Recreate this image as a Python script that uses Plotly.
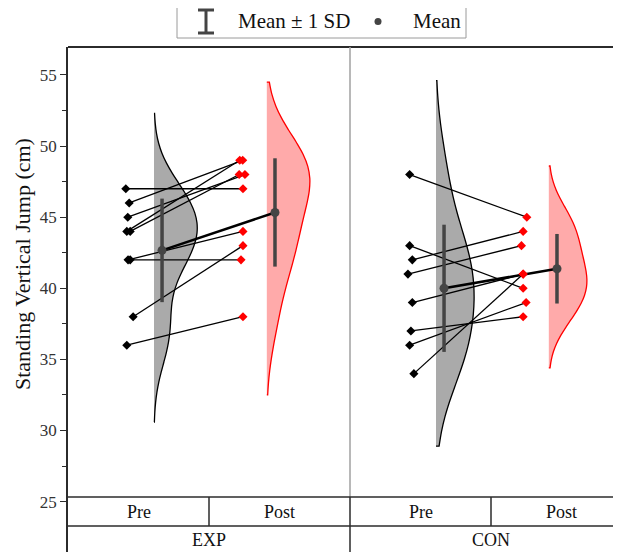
import numpy as np
import plotly.graph_objects as go

# ---------------- data ----------------
groups = ["EXP", "CON"]
phases = ["Pre", "Post"]
exp_pre = [47, 46, 45, 44, 44, 42, 42, 38, 36]
exp_post = [47, 49, 48, 49, 48, 42, 44, 43, 38]
con_pre = [48, 43, 42, 41, 39, 37, 36, 34]
con_post = [45, 40, 44, 43, 41, 38, 39, 41]
# small horizontal jitter of the raw points (in category units)
exp_pre_jit = [-0.020, 0.004, -0.006, -0.013, 0.011, 0.011, -0.004, 0.032, -0.013]
exp_post_jit = [0.006, 0.004, 0.020, -0.017, -0.021, -0.008, 0.006, 0.006, 0.006]
con_pre_jit = [-0.007, -0.007, 0.012, -0.019, 0.012, 0.002, -0.007, 0.023]
con_post_jit = [0.019, -0.007, -0.007, -0.019, -0.007, -0.007, 0.014, -0.007]
y_ticks = [25, 30, 35, 40, 45, 50, 55]
y_minor = [27.5, 32.5, 37.5, 42.5, 47.5, 52.5]

data = {
    "EXP": (exp_pre, exp_post, exp_pre_jit, exp_post_jit),
    "CON": (con_pre, con_post, con_pre_jit, con_post_jit),
}

# ---------------- layout geometry (page pixels) ----------------
OFF = 8                      # page body margin
PW, PH = 621, 552            # page size
W, H = PW - OFF, PH - OFF    # figure size
L, T = 68, 47                # plot-area left/top in page pixels
unit_px = 141.0
x_max = (PW - L) / unit_px
px_per_val = 14.222
y40 = 288.3
y_top = 40 + (y40 - T) / px_per_val
y_bot = 40 - (PH - y40) / px_per_val


def py(p):  # page pixel row -> paper y
    return (PH - p) / (PH - T)


def px(p):  # page pixel column -> paper x
    return (p - L) / (PW - L)


spans = {
    ("EXP", "Pre"): [30.6, 52.3],
    ("EXP", "Post"): [32.5, 54.5],
    ("CON", "Pre"): [28.9, 54.6],
    ("CON", "Post"): [34.4, 48.6],
}
vwidth = {"EXP": 0.61, "CON": 0.54}

fig = go.Figure()

for gi, g in enumerate(groups):
    pre, post, pj, qj = data[g]
    base = 2 * gi
    pre_pt, post_pt = base + 0.43, base + 1.235
    pre_v, post_v = base + 0.61, base + 1.41
    pre_m, post_m = base + 0.667, base + 1.468
    # violins
    fig.add_trace(go.Violin(
        x=[pre_v] * len(pre), y=pre, side="positive", width=vwidth[g],
        spanmode="manual", span=spans[(g, "Pre")], points=False,
        fillcolor="rgb(170,170,170)", line=dict(color="black", width=1.3),
        opacity=1, showlegend=False, hoverinfo="skip"))
    fig.add_trace(go.Violin(
        x=[post_v] * len(post), y=post, side="positive", width=vwidth[g],
        spanmode="manual", span=spans[(g, "Post")], points=False,
        fillcolor="rgb(255,170,170)", line=dict(color="red", width=1.3),
        opacity=1, showlegend=False, hoverinfo="skip"))
    # paired lines
    lx, ly = [], []
    for a, b, ja, jb in zip(pre, post, pj, qj):
        lx += [pre_pt + ja, post_pt + jb, None]
        ly += [a, b, None]
    fig.add_trace(go.Scatter(x=lx, y=ly, mode="lines",
                             line=dict(color="black", width=1.3),
                             showlegend=False, hoverinfo="skip"))
    # mean line
    m1, m2 = np.mean(pre), np.mean(post)
    s1, s2 = np.std(pre, ddof=1), np.std(post, ddof=1)
    fig.add_trace(go.Scatter(x=[pre_m, post_m], y=[m1, m2], mode="lines",
                             line=dict(color="black", width=2.6),
                             showlegend=False, hoverinfo="skip"))
    # mean +- SD
    fig.add_trace(go.Scatter(
        x=[pre_m, post_m], y=[m1, m2], mode="markers",
        marker=dict(color="#444444", size=9, symbol="circle"),
        error_y=dict(type="data", array=[s1, s2], color="#444444",
                     thickness=3.5, width=0),
        showlegend=False, hoverinfo="skip"))
    # points
    fig.add_trace(go.Scatter(
        x=[pre_pt + j for j in pj], y=pre, mode="markers",
        marker=dict(color="black", size=7, symbol="diamond"),
        showlegend=False, hoverinfo="skip"))
    fig.add_trace(go.Scatter(
        x=[post_pt + j for j in qj], y=post, mode="markers",
        marker=dict(color="red", size=7, symbol="diamond"),
        showlegend=False, hoverinfo="skip"))

font_family = "Liberation Serif"
shapes = []
ink = "#2b2b2b"
# frame top
shapes.append(dict(type="line", xref="paper", yref="paper", x0=0, x1=1, y0=1, y1=1,
                   line=dict(color=ink, width=2)))
# gray divider
shapes.append(dict(type="line", xref="x", yref="paper", x0=2, x1=2, y0=py(497), y1=1,
                   line=dict(color="#a0a0a0", width=1.5)))
# table
for yy in (497, 526):
    shapes.append(dict(type="line", xref="paper", yref="paper", x0=0, x1=1,
                       y0=py(yy), y1=py(yy), line=dict(color=ink, width=1.5)))
for xx in (1, 2, 3):
    shapes.append(dict(type="line", xref="x", yref="paper", x0=xx, x1=xx,
                       y0=py(526), y1=py(497), line=dict(color=ink, width=1.5)))
shapes.append(dict(type="line", xref="x", yref="paper", x0=2, x1=2,
                   y0=0, y1=py(526), line=dict(color=ink, width=1.5)))

# legend box
lg = "#9a9a9a"
shapes.append(dict(type="line", xref="paper", yref="paper", x0=px(177), x1=px(177),
                   y0=py(38), y1=py(OFF - 2), line=dict(color=lg, width=1)))
shapes.append(dict(type="line", xref="paper", yref="paper", x0=px(466), x1=px(466),
                   y0=py(38), y1=py(OFF - 2), line=dict(color=lg, width=1)))
shapes.append(dict(type="line", xref="paper", yref="paper", x0=px(177), x1=px(466),
                   y0=py(38), y1=py(38), line=dict(color=lg, width=1)))
# legend error-bar glyph
shapes.append(dict(type="line", xref="paper", yref="paper", x0=px(206), x1=px(206),
                   y0=py(10), y1=py(33), line=dict(color="#444444", width=3)))
for yy in (10, 33):
    shapes.append(dict(type="line", xref="paper", yref="paper", x0=px(198), x1=px(214),
                       y0=py(yy), y1=py(yy), line=dict(color="#444444", width=3)))
# legend mean dot
shapes.append(dict(type="circle", xref="paper", yref="paper",
                   x0=px(374.5), x1=px(381.5), y0=py(25), y1=py(18),
                   fillcolor="#444444", line=dict(color="#444444", width=0)))

ann = []
ann.append(dict(text="Mean ± 1 SD", xref="paper", yref="paper", x=px(236), y=py(21),
                xanchor="left", yanchor="middle", showarrow=False,
                font=dict(family=font_family, size=21, color="#111")))
ann.append(dict(text="Mean", xref="paper", yref="paper", x=px(411), y=py(21),
                xanchor="left", yanchor="middle", showarrow=False,
                font=dict(family=font_family, size=21, color="#111")))
for gi, g in enumerate(groups):
    for pi, ph in enumerate(phases):
        ann.append(dict(text=ph, xref="x", yref="paper", x=2 * gi + pi + 0.5,
                        y=py(511.5), xanchor="center", yanchor="middle", showarrow=False,
                        font=dict(family=font_family, size=18, color="#111")))
    ann.append(dict(text=g, xref="x", yref="paper", x=2 * gi + 1, y=py(539.5),
                    xanchor="center", yanchor="middle", showarrow=False,
                    font=dict(family=font_family, size=18, color="#111")))
ann.append(dict(text="Standing Vertical Jump (cm)", xref="paper", yref="paper",
                x=px(22), y=py(264), textangle=-90, xanchor="center", yanchor="middle",
                showarrow=False, font=dict(family=font_family, size=22, color="#111")))

fig.update_layout(
    width=W, height=H, margin=dict(l=L - OFF, r=0, t=T - OFF, b=0),
    paper_bgcolor="white", plot_bgcolor="white",
    violinmode="overlay", violingap=0, violingroupgap=0,
    shapes=shapes, annotations=ann, showlegend=False,
    xaxis=dict(range=[0, x_max], visible=False, fixedrange=True),
    yaxis=dict(range=[y_bot, y_top], tickvals=y_ticks, showgrid=False, zeroline=False,
               showline=True, linecolor=ink, linewidth=1.5, ticks="outside",
               ticklen=6, tickwidth=1.3, tickcolor=ink,
               tickfont=dict(family=font_family, size=17, color="#333"),
               minor=dict(tickvals=y_minor, ticks="outside", ticklen=4,
                          tickwidth=1.2, tickcolor=ink, showgrid=False),
               fixedrange=True),
)

fig.write_html("out.html")
